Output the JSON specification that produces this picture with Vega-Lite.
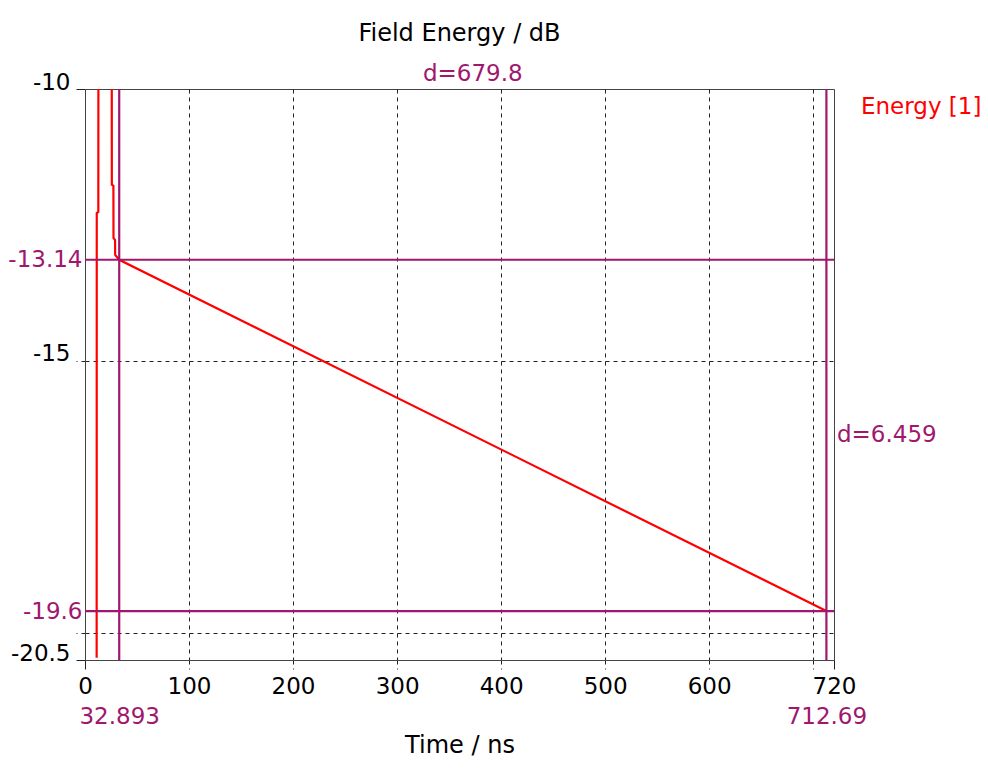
{
  "$schema": "https://vega.github.io/schema/vega-lite/v6.json",
  "autosize": "none",
  "padding": {"left": 85, "top": 89, "right": 154, "bottom": 113},
  "width": 749,
  "height": 571,
  "title": {"text": "Field Energy / dB", "fontSize": 24, "fontWeight": "normal", "color": "black", "anchor": "middle", "offset": 17},
  "config": {
    "font": "DejaVu Sans",
    "view": {"stroke": "#444", "strokeWidth": 1},
    "axis": {"labelFontSize": 23, "titleFontSize": 24, "titleFontWeight": "normal", "titleColor": "black", "domainColor": "#444", "tickSize": 9, "tickColor": "#222", "gridColor": "#222", "gridDash": [4, 4], "labelOverlap": false, "labelBound": false, "labelFlush": false}
  },
  "datasets": {
    "energy": [
      {"t": 11.2, "e": -20.46},
      {"t": 11.3, "e": -12.28},
      {"t": 12.8, "e": -12.26},
      {"t": 12.9, "e": -9.0},
      {"t": 25.7, "e": -9.0},
      {"t": 25.8, "e": -11.76},
      {"t": 27.3, "e": -11.78},
      {"t": 27.4, "e": -12.74},
      {"t": 28.9, "e": -12.78},
      {"t": 29.0, "e": -13.05},
      {"t": 32.893, "e": -13.14},
      {"t": 712.69, "e": -19.6}
    ],
    "hlines": [{"level": -13.14}, {"level": -19.6}],
    "vlines": [{"t": 32.893}, {"t": 712.69}],
    "notes": [
      {"t": 372.79, "e": -10, "label": "d=679.8", "kind": "dx"},
      {"t": 720, "e": -16.37, "label": "d=6.459", "kind": "dy"}
    ],
    "legend": [{"t": 720, "e": -10, "label": "Energy [1]"}]
  },
  "layer": [
    {
      "data": {"name": "energy"},
      "mark": {"type": "line", "color": "#ff0000", "strokeWidth": 2.2, "clip": true},
      "encoding": {
        "x": {
          "field": "t", "type": "quantitative",
          "scale": {"domain": [0, 720], "nice": false, "zero": false},
          "axis": {
            "title": "Time / ns",
            "titlePadding": 5,
            "values": [0, 32.893, 100, 200, 300, 400, 500, 600, 700, 712.69, 720],
            "labelExpr": "datum.value == 700 ? '' : toString(datum.value)",
            "grid": true,
            "gridOpacity": {"condition": {"test": "datum.value == 0 || datum.value == 720 || datum.value == 32.893 || datum.value == 712.69", "value": 0}, "value": 1},
            "tickOpacity": {"condition": {"test": "datum.value == 32.893 || datum.value == 712.69", "value": 0}, "value": 1},
            "tickDash": {"condition": {"test": "datum.value == 0 || datum.value == 720", "value": []}, "value": [4, 4]},
            "labelColor": {"condition": {"test": "datum.value == 32.893 || datum.value == 712.69", "value": "#a0176e"}, "value": "black"},
            "labelPadding": {"condition": {"test": "datum.value == 32.893 || datum.value == 712.69", "value": 36}, "value": 6}
          }
        },
        "y": {
          "field": "e", "type": "quantitative",
          "scale": {"domain": [-20.5, -10], "nice": false, "zero": false},
          "axis": {
            "title": null,
            "values": [-10, -13.14, -15, -19.6, -20, -20.5],
            "labelExpr": "datum.value == -20 ? '' : toString(datum.value)",
            "grid": true,
            "gridOpacity": {"condition": {"test": "datum.value == -10 || datum.value == -20.5 || datum.value == -13.14 || datum.value == -19.6", "value": 0}, "value": 1},
            "tickOpacity": {"condition": {"test": "datum.value == -13.14 || datum.value == -19.6", "value": 0}, "value": 1},
            "tickDash": {"condition": {"test": "datum.value == -10 || datum.value == -20.5", "value": []}, "value": [4, 4]},
            "labelColor": {"condition": {"test": "datum.value == -13.14 || datum.value == -19.6", "value": "#a0176e"}, "value": "black"},
            "labelBaseline": {"condition": {"test": "datum.value == -13.14 || datum.value == -19.6", "value": "middle"}, "value": "alphabetic"},
            "labelPadding": {"condition": {"test": "datum.value == -13.14 || datum.value == -19.6", "value": -6}, "value": 6}
          }
        }
      }
    },
    {
      "data": {"name": "hlines"},
      "mark": {"type": "rule", "color": "#a0176e", "strokeWidth": 2.2},
      "encoding": {"y": {"field": "level", "type": "quantitative"}}
    },
    {
      "data": {"name": "vlines"},
      "mark": {"type": "rule", "color": "#a0176e", "strokeWidth": 2.2},
      "encoding": {"x": {"field": "t", "type": "quantitative"}}
    },
    {
      "data": {"name": "notes"},
      "transform": [{"filter": "datum.kind == 'dx'"}],
      "mark": {"type": "text", "color": "#a0176e", "fontSize": 23, "align": "center", "baseline": "middle", "dy": -15},
      "encoding": {"x": {"field": "t", "type": "quantitative"}, "y": {"field": "e", "type": "quantitative"}, "text": {"field": "label"}}
    },
    {
      "data": {"name": "notes"},
      "transform": [{"filter": "datum.kind == 'dy'"}],
      "mark": {"type": "text", "color": "#a0176e", "fontSize": 23, "align": "left", "baseline": "middle", "dx": 3},
      "encoding": {"x": {"field": "t", "type": "quantitative"}, "y": {"field": "e", "type": "quantitative"}, "text": {"field": "label"}}
    },
    {
      "data": {"name": "legend"},
      "mark": {"type": "text", "color": "#ff0000", "fontSize": 23, "align": "left", "baseline": "middle", "dx": 27, "dy": 18},
      "encoding": {"x": {"field": "t", "type": "quantitative"}, "y": {"field": "e", "type": "quantitative"}, "text": {"field": "label"}}
    }
  ]
}
